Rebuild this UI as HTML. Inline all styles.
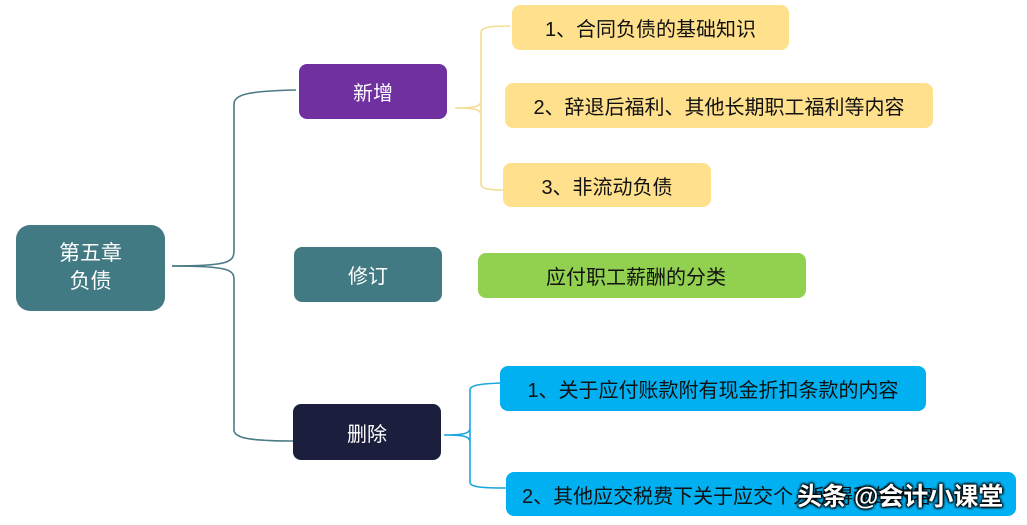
<!DOCTYPE html>
<html><head><meta charset="utf-8"><style>
body{margin:0;width:1027px;height:525px;background:#fff;position:relative;overflow:hidden;font-family:"Liberation Sans","Noto Sans CJK SC",sans-serif;}
.b{position:absolute;border-radius:8px;display:flex;align-items:center;justify-content:center;font-size:20px;}
.w{color:#fff}
.k{color:#111}
svg{position:absolute;left:0;top:0}
</style></head><body>
<svg width="1027" height="525">
<g fill="none" stroke-width="1.6">
<path d="M172 266 C230 266 234 262 234 250 L234 104 C234 94 250 91 296 90" stroke="#4a7a86"/>
<path d="M172 266 C230 266 234 270 234 280 L234 430 C234 438 250 441 293 441" stroke="#4a7a86"/>
<path d="M455 108 C478 108 481 106 481 100 L481 33 C481 27 490 26 510 26 M481 100 L481 184 C481 189 490 190 503 190 M455 108 C478 108 481 110 481 116" stroke="#f5dc95"/>
<path d="M444 435 C466 435 470 433 470 428 L470 390 C470 385 480 384 500 383 M470 428 L470 482 C470 487 480 488 506 488 M444 435 C466 435 470 437 470 442" stroke="#1aa6de"/>
</g>
</svg>
<div class="b w" style="left:16px;top:225px;width:149px;height:86px;background:#427a83;border-radius:14px;line-height:28px;text-align:center;font-size:21px">第五章<br>负债</div>
<div class="b w" style="left:299px;top:64px;width:148px;height:55px;background:#7030a0">新增</div>
<div class="b w" style="left:294px;top:247px;width:148px;height:55px;background:#427a83">修订</div>
<div class="b w" style="left:293px;top:404px;width:148px;height:56px;background:#1c1e3e">删除</div>
<div class="b k" style="left:512px;top:5px;width:277px;height:45px;background:#ffe08c">1、合同负债的基础知识</div>
<div class="b k" style="left:505px;top:83px;width:428px;height:45px;background:#ffe08c">2、辞退后福利、其他长期职工福利等内容</div>
<div class="b k" style="left:503px;top:163px;width:208px;height:44px;background:#ffe08c">3、非流动负债</div>
<div class="b k" style="left:478px;top:253px;width:328px;height:45px;background:#92d050;justify-content:flex-start;padding-left:68px;box-sizing:border-box">应付职工薪酬的分类</div>
<div class="b k" style="left:500px;top:366px;width:426px;height:45px;background:#00b0f0">1、关于应付账款附有现金折扣条款的内容</div>
<div class="b k" style="left:506px;top:472px;width:510px;height:44px;background:#00b0f0;justify-content:flex-start;padding-left:16px;box-sizing:border-box">2、其他应交税费下关于应交个人所得税的内容</div>
<div style="position:absolute;left:797px;top:477px;font-size:25px;font-weight:bold;color:#fff;text-shadow:1px 1px 2px #000,-1px -1px 2px #000,1px -1px 2px #000,-1px 1px 2px #000">头条 @会计小课堂</div>
</body></html>
